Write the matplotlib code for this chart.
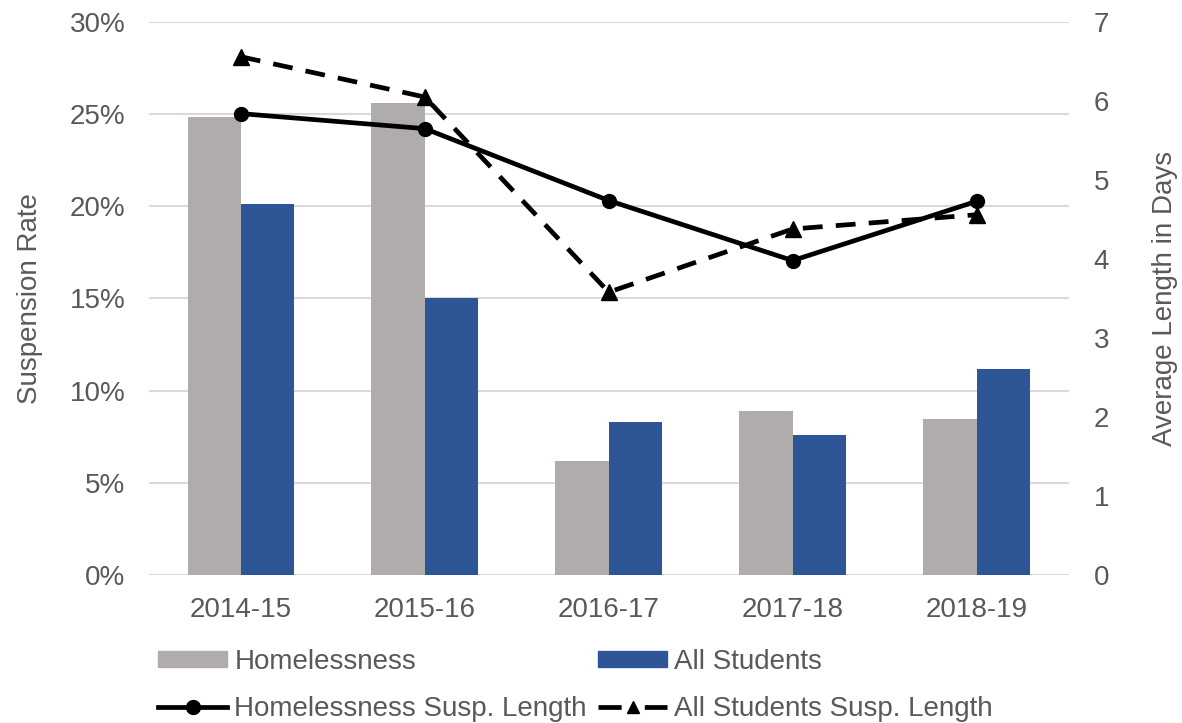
import matplotlib
matplotlib.use("Agg")
import matplotlib.pyplot as plt
import numpy as np
from matplotlib.patches import Patch
from matplotlib.lines import Line2D

categories = ["2014-15", "2015-16", "2016-17", "2017-18", "2018-19"]
homeless_rate = [24.85, 25.6, 6.2, 8.9, 8.45]
all_rate = [20.1, 15.05, 8.3, 7.6, 11.2]
homeless_len = [5.84, 5.65, 4.74, 3.98, 4.73]
all_len = [6.56, 6.05, 3.58, 4.38, 4.56]

plt.rcParams['font.family'] = ['Liberation Sans', 'DejaVu Sans']
TXT = '#595959'
GRAY = '#AFACAB'
BLUE = '#2E5596'
FS = 20

fig = plt.figure(figsize=(11.82, 7.23), dpi=100)
ax = fig.add_axes([0.126, 0.2047, 0.778, 0.7649])
x = np.arange(len(categories))
w = 0.29
ax.bar(x - w/2, homeless_rate, w, color=GRAY, zorder=2)
ax.bar(x + w/2, all_rate, w, color=BLUE, zorder=2)
ax.set_xlim(-0.5, 4.5)
ax.set_ylim(0, 30)
ax.set_yticks(range(0, 31, 5))
ax.set_yticklabels([f"{v}%" for v in range(0, 31, 5)])
ax.set_xticks(x)
ax.set_xticklabels(categories)
ax.grid(axis='y', color='#D9D9D9', linewidth=1.5, zorder=0)
for s in ax.spines.values():
    s.set_visible(False)
ax.tick_params(length=0, labelsize=FS, colors=TXT)
ax.tick_params(axis='y', pad=17)
ax.tick_params(axis='x', pad=16)
ax.set_ylabel("Suspension Rate", fontsize=FS, color=TXT, labelpad=19)

ax2 = ax.twinx()
ax2.set_ylim(0, 7)
ax2.set_yticks(range(0, 8))
for s in ax2.spines.values():
    s.set_visible(False)
ax2.tick_params(length=0, labelsize=FS, colors=TXT, pad=18)
ax2.set_ylabel("Average Length in Days", fontsize=FS, color=TXT, labelpad=31)
ax2.plot(x, homeless_len, color='black', linewidth=3.4, marker='o', markersize=10, zorder=3)
ax2.plot(x, all_len, color='black', linewidth=3.4, linestyle=(0, (4.2, 2.8)), marker='^', markersize=12, zorder=3)

handles = [
    Patch(color=GRAY),
    Line2D([], [], color='black', linewidth=3.4, marker='o', markersize=10),
    Patch(color=BLUE),
    Line2D([], [], color='black', linewidth=3.4, linestyle=(0, (4.9, 4.9)), marker='^', markersize=9),
]
labels = ["Homelessness", "Homelessness Susp. Length", "All Students", "All Students Susp. Length"]
leg = fig.legend(handles, labels, ncol=2, loc='upper left', bbox_to_anchor=(158/1182, 1 - 649/723),
                 frameon=False, fontsize=FS, handlelength=2.5, handletextpad=0.25,
                 columnspacing=0.4, labelspacing=0.75, handleheight=0.5, borderpad=0, borderaxespad=0)
for t in leg.get_texts():
    t.set_color(TXT)

fig.savefig("out.png", dpi=100)
